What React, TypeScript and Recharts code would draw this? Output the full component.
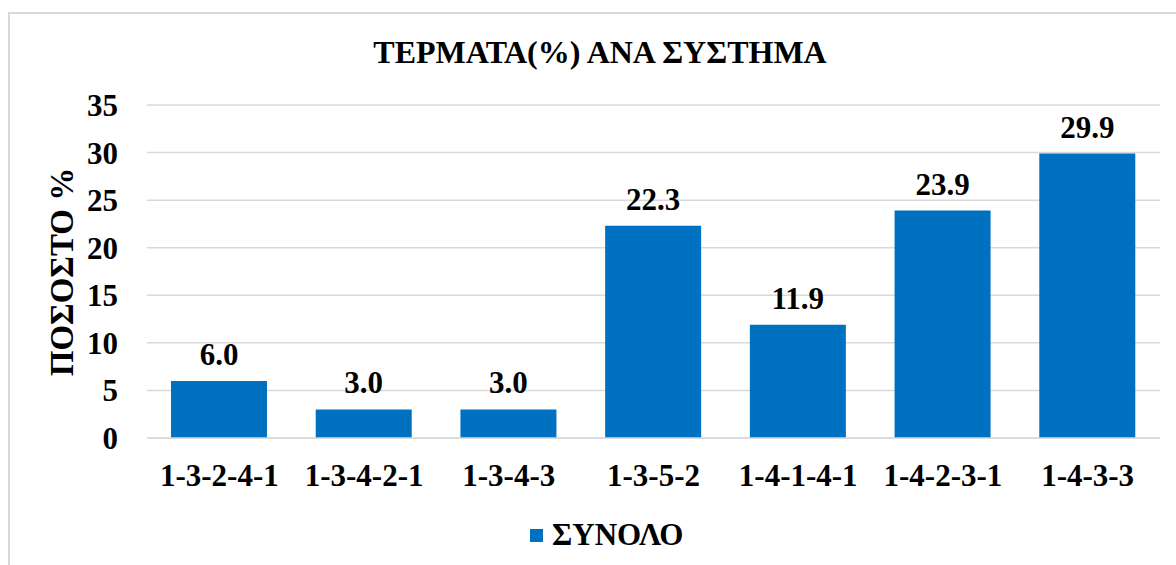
import React from 'react';
import { BarChart, Bar, XAxis, YAxis, CartesianGrid, LabelList } from 'recharts';

const categories = ['1-3-2-4-1', '1-3-4-2-1', '1-3-4-3', '1-3-5-2', '1-4-1-4-1', '1-4-2-3-1', '1-4-3-3'];
const totals = [6.0, 3.0, 3.0, 22.3, 11.9, 23.9, 29.9];
const yTicks = [0, 5, 10, 15, 20, 25, 30, 35];
const seriesName = 'ΣΥΝΟΛΟ';
const title = 'ΤΕΡΜΑΤΑ(%) ΑΝΑ ΣΥΣΤΗΜΑ';
const yLabel = 'ΠΟΣΟΣΤΟ %';

const data = categories.map((c, i) => ({ name: c, value: totals[i] }));

const FONT = '"Liberation Serif", "Times New Roman", serif';
const BLUE = '#0070C0';

export default function App() {
  return (
    <div style={{ position: 'absolute', left: 0, top: 0, width: 1176, height: 565, overflow: 'hidden', background: '#fff' }}>
      <div style={{ position: 'absolute', left: 8, top: 12, width: 1200, height: 600, border: '2px solid #d9d9d9', boxSizing: 'border-box' }} />
      <div style={{ position: 'absolute', left: 0, top: 0 }}>
        <BarChart width={1176} height={565} data={data} margin={{ top: 105, right: 16, bottom: 67, left: 67 }}>
          <text x={600} y={52} textAnchor="middle" dominantBaseline="central" style={{ fontFamily: FONT, fontWeight: 'bold', fontSize: 32, fill: '#000' }}>{title}</text>
          <text x={62} y={272} textAnchor="middle" dominantBaseline="central" transform="rotate(-90 62 272)" style={{ fontFamily: FONT, fontWeight: 'bold', fontSize: 33, fill: '#000' }}>{yLabel}</text>
          <CartesianGrid horizontal={true} vertical={false} stroke="#d9d9d9" strokeWidth={1.5} />
          <XAxis dataKey="name" axisLine={{ stroke: '#d9d9d9', strokeWidth: 1.5 }} tickLine={false} tickSize={0} tickMargin={26} height={60}
            tick={{ fontFamily: FONT, fontWeight: 'bold', fontSize: 31, fill: '#000' }} interval={0} />
          <YAxis domain={[0, 35]} ticks={yTicks} axisLine={false} tickLine={false} tickSize={0} tickMargin={29} width={80}
            tick={{ fontFamily: FONT, fontWeight: 'bold', fontSize: 31, fill: '#000' }} />
          <Bar dataKey="value" name={seriesName} fill={BLUE} barSize={96} isAnimationActive={false}>
            <LabelList dataKey="value" position="top" offset={16} formatter={(v: number) => v.toFixed(1)}
              style={{ fontFamily: FONT, fontWeight: 'bold', fontSize: 31, fill: '#000' }} />
          </Bar>
        </BarChart>
      </div>
      <div style={{ position: 'absolute', left: 530, top: 516, display: 'flex', alignItems: 'center', height: 38, fontFamily: FONT, fontWeight: 'bold', fontSize: 31, color: '#000' }}>
        <span style={{ display: 'inline-block', width: 13, height: 13, background: BLUE, marginRight: 9 }} />
        <span>{seriesName}</span>
      </div>
    </div>
  );
}
